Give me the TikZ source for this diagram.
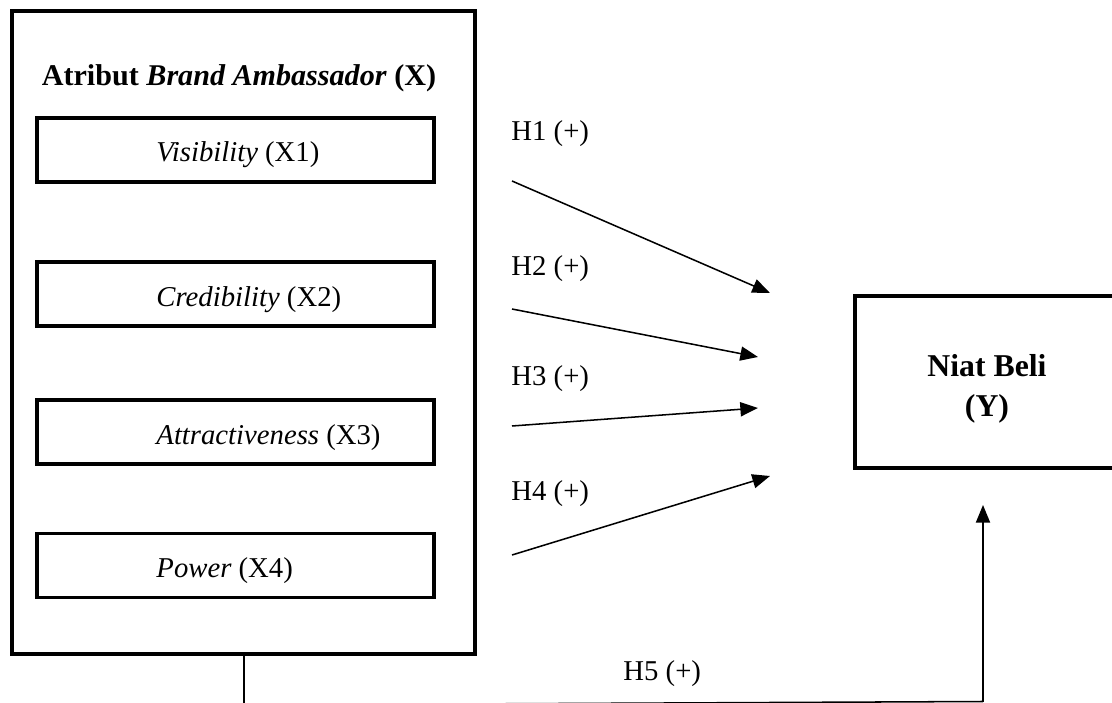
\documentclass[tikz,border=0pt]{standalone}
\usepackage{fontspec}
\setmainfont{Liberation Serif}
\usetikzlibrary{arrows.meta}
\begin{document}
\begin{tikzpicture}[x=0.425pt,y=-0.425pt,
  outerbox/.style={draw, line width=1.5pt, minimum width=463*0.425pt, minimum height=643*0.425pt, inner sep=0pt},
  innerbox/.style={draw, line width=1.3pt, minimum width=397*0.425pt, minimum height=64*0.425pt, inner sep=0pt},
  ybox/.style={draw, line width=1.3pt, minimum width=270*0.425pt, minimum height=172*0.425pt, inner sep=0pt},
  txt/.style={font=\fontsize{12.2}{14}\selectfont, inner sep=0pt},
  conn/.style={line width=0.65pt, -{Triangle[length=7.5pt,width=6pt]}},
  plain/.style={line width=0.65pt}]
\clip (0,0) rectangle (1112,703);
\fill[white] (0,0) rectangle (1112,703);
% outer box
\node[outerbox] (outer) at (243.5,332.5) {};
\node[txt, anchor=base, font=\fontsize{12.8}{14}\selectfont\bfseries] (title) at (239,86) {Atribut \textit{Brand Ambassador} (X)};
% inner boxes
\node[innerbox] (b1) at (235.5,150) {};
\node[innerbox] (b2) at (235.5,294) {};
\node[innerbox] (b3) at (235.5,432) {};
\node[innerbox] (b4) at (235.5,565.5) {};
\node[txt, anchor=base west] (t1) at (156,162) {\textit{Visibility} (X1)};
\node[txt, anchor=base west] (t2) at (156,306) {\textit{Credibility} (X2)};
\node[txt, anchor=base west] (t3) at (156,444) {\textit{Attractiveness} (X3)};
\node[txt, anchor=base west] (t4) at (156,577.5) {\textit{Power} (X4)};
% Y box
\node[ybox] (y) at (990,382) {};
\node[txt, align=center, font=\fontsize{13.5}{16.8}\selectfont\bfseries] (yt) at (987,389) {Niat Beli\\(Y)};
% arrow endpoints
\coordinate (s1) at (512,181); \coordinate (e1) at (770,293);
\coordinate (s2) at (512,309); \coordinate (e2) at (758,357);
\coordinate (s3) at (512,426); \coordinate (e3) at (758,408);
\coordinate (s4) at (512,555); \coordinate (e4) at (770,476);
\draw[conn] (s1) -- (e1);
\draw[conn] (s2) -- (e2);
\draw[conn] (s3) -- (e3);
\draw[conn] (s4) -- (e4);
\node[txt, anchor=base west] (h1) at (511,141) {H1 (+)};
\node[txt, anchor=base west] (h2) at (511,276) {H2 (+)};
\node[txt, anchor=base west] (h3) at (511,385) {H3 (+)};
\node[txt, anchor=base west] (h4) at (511,500) {H4 (+)};
\node[txt, anchor=base west] (h5) at (623,680) {H5 (+)};
% H5 connector
\coordinate (c1) at (244,705);
\coordinate (c2) at (983,701.5);
\coordinate (e5) at (983,505);
\draw[plain] (outer.south -| c1) -- (c1);
\draw[plain] (c1) -- (c2);
\draw[conn] (c2) -- (e5);
\end{tikzpicture}
\end{document}
